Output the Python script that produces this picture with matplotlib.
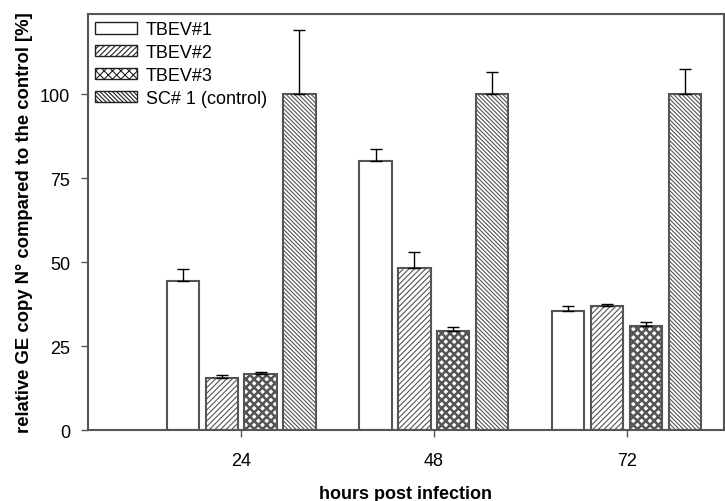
import matplotlib
matplotlib.use("Agg")
import matplotlib.pyplot as plt
import numpy as np

plt.rcParams['font.family'] = ['Liberation Sans', 'DejaVu Sans']

categories = ['24', '48', '72']
series = ['TBEV#1', 'TBEV#2', 'TBEV#3', 'SC# 1 (control)']
values = {
    'TBEV#1': [44.3, 80.0, 35.3],
    'TBEV#2': [15.6, 48.3, 37.0],
    'TBEV#3': [16.8, 29.5, 31.0],
    'SC# 1 (control)': [100.0, 100.0, 100.0],
}
errors = {
    'TBEV#1': [3.6, 3.7, 1.5],
    'TBEV#2': [0.8, 4.7, 0.4],
    'TBEV#3': [0.6, 1.3, 1.0],
    'SC# 1 (control)': [19.0, 6.5, 7.4],
}
hatches = ['', '//////', 'xxxx', '\\\\\\\\\\\\\\\\']
hatch_lw = [0.8, 0.8, 1.8, 0.8]

fig = plt.figure(figsize=(7.25, 5.02), dpi=100)
ax = fig.add_axes([0.1214, 0.1414, 0.8772, 0.8286])

x = np.arange(len(categories))
width = 0.166
step = 0.202
edge = '#555555'
for i, s in enumerate(series):
    plt.rcParams['hatch.linewidth'] = hatch_lw[i]
    pos = x + (i - 1.5) * step
    ax.bar(pos, values[s], width, color='white', edgecolor=edge, linewidth=1.5,
           hatch=hatches[i], label=s, zorder=2)
    ax.errorbar(pos, values[s], yerr=[np.zeros(3), errors[s]], fmt='none',
                ecolor='black', elinewidth=1, capsize=4.5, capthick=1, zorder=3)

ax.set_xlim(-0.793, 2.503)
ax.set_ylim(0, 123.8)
ax.set_xticks(x)
ax.set_xticklabels(categories)
ax.set_yticks([0, 25, 50, 75, 100])
ax.tick_params(axis='both', labelsize=13, color=edge, width=1, length=5, direction='out')
ax.tick_params(axis='y', pad=8)
ax.tick_params(axis='x', pad=11)
for sp in ax.spines.values():
    sp.set_color(edge)
    sp.set_linewidth(1.5)
ax.set_xlabel('hours post infection', fontsize=13, fontweight='bold', labelpad=11)
ax.set_ylabel('relative GE copy N° compared to the control [%]', fontsize=13.3,
              fontweight='bold', labelpad=5)
leg = ax.legend(loc='upper left', frameon=False, fontsize=13, handlelength=2.3,
                handleheight=0.6, handletextpad=0.5, borderaxespad=0.2,
                borderpad=0.2, labelspacing=0.32, bbox_to_anchor=(0.0, 1.0))
for h in leg.legend_handles:
    h.set_edgecolor('#222222')
    h.set_linewidth(1.0)
fig.savefig('out.png', dpi=100)
